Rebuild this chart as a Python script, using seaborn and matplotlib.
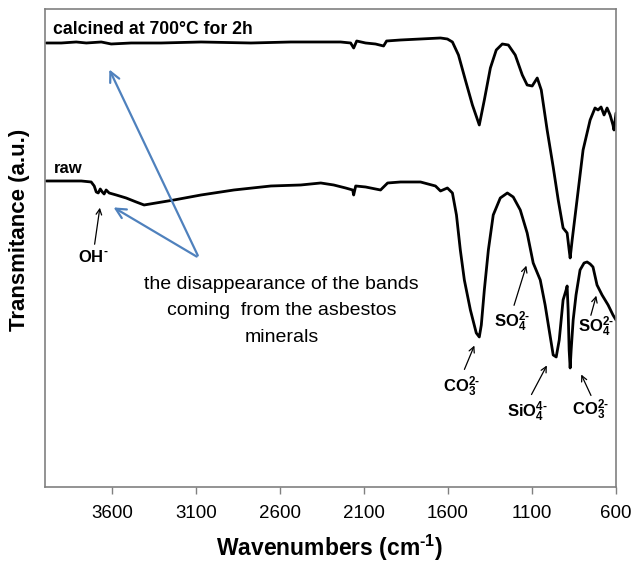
import numpy as np
import pandas as pd
import matplotlib.pyplot as plt
import seaborn as sns

sns.set_style('white')
plt.rcParams['font.family'] = ['Liberation Sans', 'DejaVu Sans']
plt.rcParams['mathtext.fontset'] = 'custom'
plt.rcParams['mathtext.rm'] = 'Liberation Sans:bold'
plt.rcParams['mathtext.bf'] = 'Liberation Sans:bold'
plt.rcParams['mathtext.default'] = 'bf'
plt.rcParams['text.color'] = 'black'
plt.rcParams['axes.labelcolor'] = 'black'
plt.rcParams['xtick.labelcolor'] = 'black'

# spectra (wavenumber in cm-1, transmittance in a.u.)
calc_wn = [3992, 3903, 3814, 3754, 3665, 3606, 3487, 3309, 3071, 2774,
           2537, 2359, 2240, 2180, 2162, 2144, 2091, 2032, 1984, 1966,
           1883, 1764, 1645, 1604, 1574, 1538, 1497, 1455, 1414, 1384,
           1348, 1313, 1277, 1241, 1200, 1158, 1129, 1099, 1069, 1045,
           1010, 974, 944, 915, 891, 879, 873, 861, 832, 796,
           754, 725, 707, 689, 671, 653, 635, 618, 612, 600]
calc_t = [444, 444, 445, 444, 445, 443, 444, 444, 445, 444,
          445, 445, 445, 444, 439, 446, 444, 443, 441, 446,
          447, 448, 449, 448, 445, 432, 407, 382, 362, 387,
          419, 437, 443, 442, 432, 412, 402, 401, 409, 397,
          357, 320, 287, 259, 254, 237, 229, 247, 287, 337,
          367, 379, 377, 380, 372, 379, 372, 362, 357, 374]

raw_wn = [3992, 3903, 3784, 3725, 3707, 3695, 3683, 3671, 3659, 3648,
          3636, 3618, 3576, 3517, 3457, 3410, 3339, 3232, 3071, 2875,
          2655, 2477, 2358, 2281, 2210, 2168, 2162, 2150, 2091, 2032,
          2002, 1984, 1960, 1883, 1764, 1675, 1645, 1604, 1574, 1550,
          1527, 1503, 1467, 1432, 1414, 1402, 1384, 1360, 1331, 1289,
          1247, 1212, 1170, 1129, 1093, 1051, 1022, 998, 974, 956,
          938, 915, 897, 891, 885, 879, 873, 867, 855, 838,
          814, 790, 772, 754, 737, 713, 683, 647, 618, 600]
raw_t = [306, 306, 306, 305, 301, 295, 294, 298, 295, 293,
         297, 294, 292, 289, 285, 282, 284, 287, 292, 297,
         301, 302, 304, 302, 299, 297, 292, 301, 300, 298,
         297, 300, 304, 305, 305, 301, 296, 299, 294, 272,
         237, 207, 177, 154, 150, 162, 197, 237, 272, 289,
         294, 290, 277, 254, 224, 207, 182, 157, 132, 130,
         147, 187, 197, 201, 177, 137, 119, 137, 167, 192,
         217, 224, 225, 223, 220, 202, 192, 182, 172, 167]

df = pd.concat([
    pd.DataFrame({'wn': calc_wn, 't': calc_t, 'sample': 'calcined'}),
    pd.DataFrame({'wn': raw_wn, 't': raw_t, 'sample': 'raw'}),
])

fig = plt.figure(figsize=(6.34, 5.62), dpi=100)
ax = fig.add_axes([0.071, 0.1335, 0.9006, 0.8505])

sns.lineplot(data=df, x='wn', y='t', units='sample', estimator=None, sort=False,
             color='black', linewidth=2.0, ax=ax, legend=False)

ax.set_xlim(4000, 600)
ax.set_ylim(0, 478)
ax.set_xticks([3600, 3100, 2600, 2100, 1600, 1100, 600])
ax.set_yticks([])
ax.tick_params(axis='x', direction='out', length=5, width=1, color='#808080',
               labelsize=13.5, pad=8, bottom=True)
for s in ax.spines.values():
    s.set_color('#808080')
    s.set_linewidth(1.2)

ax.set_xlabel('Wavenumbers (cm$^{\\text{-}1}$)', fontsize=16.5, fontweight='bold')
ax.xaxis.set_label_coords(0.499, -0.095)
ax.set_ylabel('Transmitance (a.u.)', fontsize=16, fontweight='bold', va='center')
ax.yaxis.set_label_coords(-0.044, 0.538)

ax.text(3950, 457, 'calcined at 700°C for 2h', fontsize=12.7, fontweight='bold', va='center')
ax.text(3950, 318, 'raw', fontsize=12, fontweight='bold', va='center')

ax.text(2590, 176, 'the disappearance of the bands\ncoming  from the asbestos\nminerals',
        fontsize=14, ha='center', va='center', linespacing=1.75)

blue = '#4F81BD'
for tgt in [(3624, 420), (3606, 281)]:
    ax.annotate('', xy=tgt, xytext=(3083, 229),
                arrowprops=dict(arrowstyle='->', color=blue, lw=1.6, mutation_scale=18))

labels = [
    ('OH$^{\\text{-}}$', (3713, 230), (3671, 282), (3707, 240)),
    ('CO$_3^{2\\text{-}}$', (1521, 100), (1437, 144), (1509, 115)),
    ('SO$_4^{2\\text{-}}$', (1218, 165), (1129, 224), (1212, 179)),
    ('SiO$_4^{4\\text{-}}$', (1129, 75), (1004, 124), (1111, 90)),
    ('CO$_3^{2\\text{-}}$', (754, 77), (814, 115), (742, 89)),
    ('SO$_4^{2\\text{-}}$', (719, 160), (713, 194), (754, 169)),
]
for txt, pos, tip, tail in labels:
    ax.text(pos[0], pos[1], txt, fontsize=12, fontweight='bold', ha='center', va='center')
    ax.annotate('', xy=tip, xytext=tail,
                arrowprops=dict(arrowstyle='->', color='black', lw=0.9, mutation_scale=10))

fig.savefig('out.png', dpi=100)
